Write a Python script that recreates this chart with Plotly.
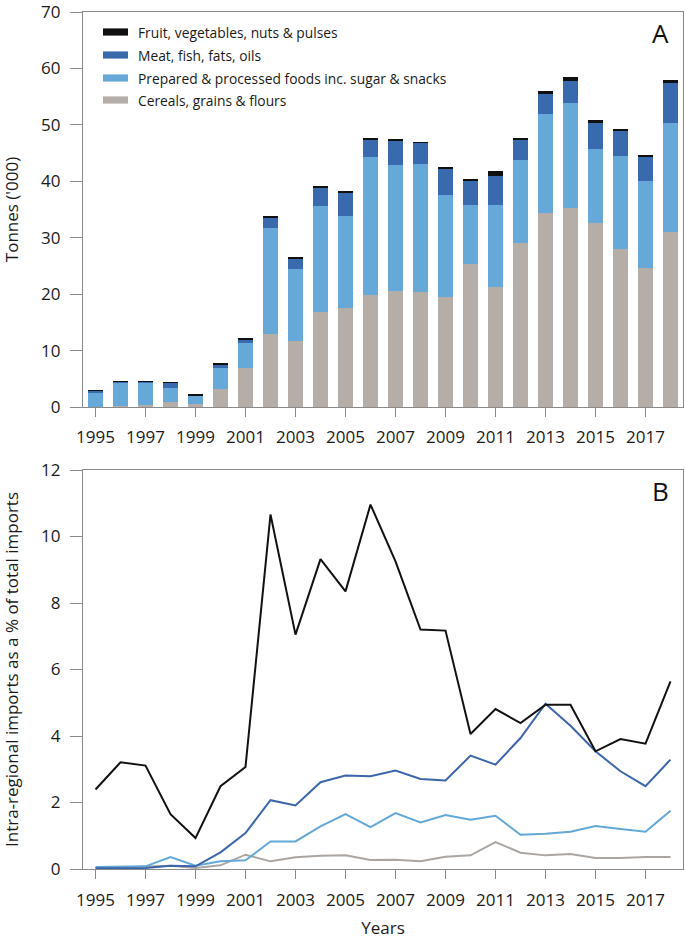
import plotly.graph_objects as go

years = list(range(1995, 2019))

# Panel A: cumulative stack tops ('000 tonnes)
cereals_top = [0.0, 0.1, 0.35, 0.8, 0.5, 3.15, 6.9, 12.9, 11.7, 16.8, 17.5, 19.8,
               20.5, 20.4, 19.5, 25.4, 21.3, 29.1, 34.4, 35.2, 32.6, 28.0, 24.6, 31.1]
prepared_top = [2.6, 4.3, 4.3, 3.45, 2.0, 6.95, 11.4, 31.7, 24.5, 35.7, 33.8, 44.3,
                42.9, 43.0, 37.5, 35.8, 35.8, 43.7, 52.0, 53.8, 45.8, 44.5, 40.1, 50.4]
meat_top = [2.95, 4.5, 4.5, 4.3, 2.1, 7.5, 12.0, 33.6, 26.3, 38.9, 37.9, 47.4,
            47.2, 46.8, 42.1, 40.0, 41.0, 47.3, 55.5, 57.8, 50.4, 48.9, 44.3, 57.4]
fruit_top = [3.0, 4.6, 4.6, 4.4, 2.15, 7.7, 12.25, 33.9, 26.6, 39.2, 38.3, 47.6,
             47.5, 46.9, 42.5, 40.4, 41.8, 47.7, 56.0, 58.5, 50.8, 49.3, 44.7, 57.9]

cereals = cereals_top
prepared = [round(p - c, 2) for p, c in zip(prepared_top, cereals_top)]
meat = [round(m - p, 2) for m, p in zip(meat_top, prepared_top)]
fruit = [round(f - m, 2) for f, m in zip(fruit_top, meat_top)]

# Panel B: intra-regional imports as % of total imports
pct_fruit = [2.39, 3.21, 3.11, 1.65, 0.93, 2.49, 3.07, 10.66, 7.05, 9.32, 8.35, 10.96,
             9.25, 7.2, 7.17, 4.06, 4.81, 4.39, 4.94, 4.94, 3.54, 3.91, 3.77, 5.64]
pct_meat = [0.02, 0.03, 0.03, 0.1, 0.08, 0.5, 1.08, 2.07, 1.91, 2.61, 2.81, 2.79,
            2.96, 2.71, 2.66, 3.41, 3.14, 3.94, 4.97, 4.31, 3.54, 2.94, 2.49, 3.29]
pct_prepared = [0.06, 0.08, 0.08, 0.36, 0.1, 0.23, 0.26, 0.83, 0.83, 1.28, 1.65, 1.26,
                1.68, 1.4, 1.62, 1.48, 1.6, 1.03, 1.06, 1.12, 1.29, 1.2, 1.12, 1.75]
pct_cereals = [0.02, 0.05, 0.06, 0.1, 0.03, 0.11, 0.43, 0.23, 0.35, 0.4, 0.41, 0.27,
               0.28, 0.23, 0.37, 0.41, 0.81, 0.49, 0.41, 0.45, 0.33, 0.33, 0.36, 0.36]

names = ["Fruit, vegetables, nuts & pulses", "Meat, fish, fats, oils",
         "Prepared & processed foods inc. sugar & snacks", "Cereals, grains & flours"]
bar_colors = ["#101010", "#3a6aae", "#66a9d9", "#b5aea8"]
line_colors = ["#111111", "#3b66ab", "#63a8d8", "#aca6a2"]
tick_years = list(range(1995, 2018, 2))

FONT = "Open Sans"
fig = go.Figure()

bar_series = [cereals, prepared, meat, fruit]
for vals, nm, col in zip(bar_series, names[::-1], bar_colors[::-1]):
    fig.add_trace(go.Bar(x=years, y=vals, name=nm, marker_color=col,
                         marker_line_width=0, width=0.58, showlegend=False,
                         xaxis="x", yaxis="y"))

line_series = [pct_cereals, pct_prepared, pct_meat, pct_fruit]
for vals, nm, col in zip(line_series, names[::-1], line_colors[::-1]):
    fig.add_trace(go.Scatter(x=years, y=vals, name=nm, mode="lines",
                             line=dict(color=col, width=2), showlegend=False,
                             xaxis="x2", yaxis="y2"))

axis_common = dict(showgrid=False, zeroline=False, showline=True, linecolor="#8a8a8a",
                   linewidth=1.2, mirror=True, ticks="outside", tickcolor="#8a8a8a",
                   automargin=False, ticklabeloverflow="allow",
                   tickfont=dict(family=FONT, size=17, color="#1a1a1a"))

T = 12
PH = 940 - T - 71
top_dom = [(869 - 407) / PH, 1.0]
bot_dom = [0.0, (869 - 470) / PH]

fig.update_layout(
    width=685, height=940,
    margin=dict(l=83, r=2, t=T, b=71),
    paper_bgcolor="white", plot_bgcolor="white",
    barmode="stack", bargap=0.4,
    font=dict(family=FONT, color="#1a1a1a"),
    xaxis=dict(axis_common, domain=[0, 1], anchor="y", range=[1994.5, 2018.5],
               tickvals=tick_years, ticklen=9, ticklabelstandoff=5),
    yaxis=dict(axis_common, domain=top_dom, anchor="x", range=[0, 70], dtick=10,
               ticklen=12, ticklabelstandoff=6,
               title=dict(text="Tonnes ('000)", font=dict(family=FONT, size=17),
                          standoff=20)),
    xaxis2=dict(axis_common, domain=[0, 1], anchor="y2", range=[1994.5, 2018.5],
                tickvals=tick_years, ticklen=9, ticklabelstandoff=6,
                title=dict(text="Years", font=dict(family=FONT, size=17), standoff=12)),
    yaxis2=dict(axis_common, domain=bot_dom, anchor="x2", range=[0, 12], dtick=2,
                ticklen=12, ticklabelstandoff=6,
                title=dict(text="Intra-regional imports as a % of total imports",
                           font=dict(family=FONT, size=17), standoff=20)),
)

# Manual legend (wide swatches) in panel A
top_h = 407 - T
row_px = [32, 55, 78, 100]
for nm, col, py in zip(names, bar_colors, row_px):
    yy = (407 - py) / top_h
    fig.add_shape(type="rect", xref="x domain", yref="y domain",
                  x0=(103 - 83) / 600, x1=(128 - 83) / 600,
                  y0=yy - 3.6 / top_h, y1=yy + 3.6 / top_h, fillcolor=col, line_width=0)
    fig.add_annotation(xref="x domain", yref="y domain", x=(136 - 83) / 600, y=yy,
                       text=nm, showarrow=False, xanchor="left", yanchor="middle",
                       font=dict(family=FONT, size=13.8, color="#1a1a1a"))

fig.add_annotation(xref="x domain", yref="y domain", x=(660 - 83) / 600, y=(407 - 33) / top_h,
                   text="A", showarrow=False, xanchor="center", yanchor="middle",
                   font=dict(family=FONT, size=26, color="#111"))
fig.add_annotation(xref="x2 domain", yref="y2 domain", x=(660 - 83) / 600, y=(869 - 491) / 399,
                   text="B", showarrow=False, xanchor="center", yanchor="middle",
                   font=dict(family=FONT, size=26, color="#111"))

fig.write_html("out.html", config={"displayModeBar": False},
               post_script="document.body.style.margin='0';")
